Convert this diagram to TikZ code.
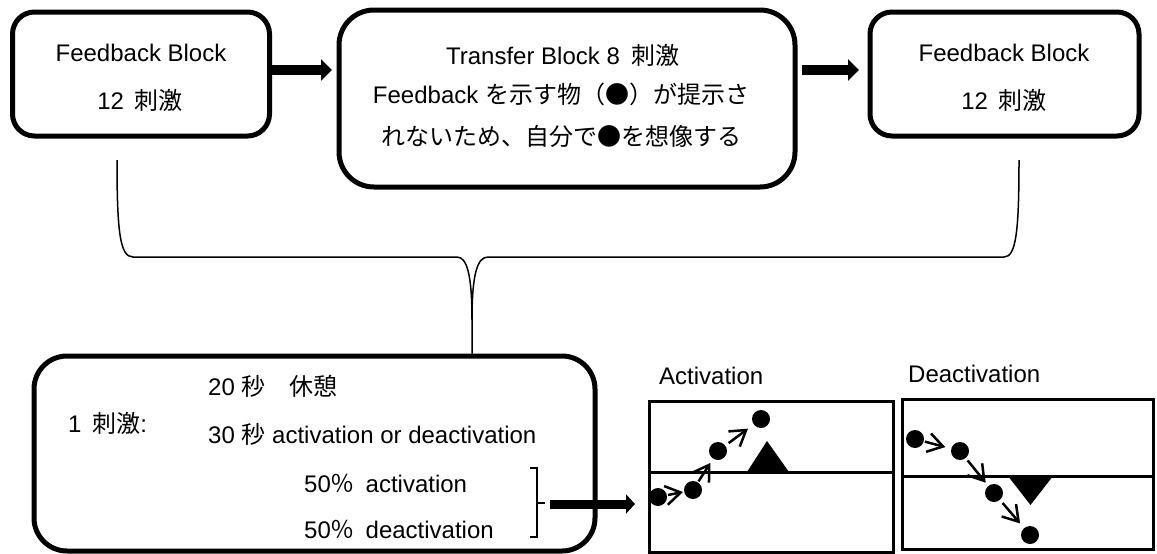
\documentclass[tikz,border=0pt]{standalone}
\usepackage{fontspec}
\setmainfont{Liberation Sans}
\newfontfamily\jp{Noto Sans CJK JP}
\usetikzlibrary{arrows.meta}
\begin{document}
\begin{tikzpicture}[x=1pt,y=-1pt,
  every node/.style={inner sep=0pt,font=\fontsize{24}{28}\selectfont},
  block/.style={draw,line width=5pt,rounded corners=#1},
  panel/.style={draw,line width=3pt},
  txt/.style={anchor=base},
  txtl/.style={anchor=base west},
  flow/.style={line width=10pt,-{Triangle[length=11pt,width=21pt]}},
  feed/.style={line width=9pt,-{Triangle[length=9pt,width=19pt]}},
  brace/.style={line width=1.5pt},
  dot/.style={circle,fill,minimum size=18pt},
  move/.style={line width=2.5pt,-{Straight Barb[length=15pt,width=19pt]},shorten <=1pt},
]
\useasboundingbox (0,0) rectangle (1157,554);

% blocks of the session
\node[block=22pt,minimum width=257pt,minimum height=124pt] (b1) at (141,74) {};
\node[block=35pt,minimum width=456pt,minimum height=177pt] (b2) at (567,98.5) {};
\node[block=22pt,minimum width=269pt,minimum height=124pt] (b3) at (1004.5,74) {};

\node[txt] (b1t1) at (141,61) {Feedback Block};
\node[txt] (b1t2) at (140,109) {12\hspace{0.45em}{\jp 刺激}};
\node[txt] (b2t1) at (563,64) {Transfer Block 8\hspace{0.5em}{\jp 刺激}};
\node[txt] (b2t2) at (561,103) {Feedback {\jp を示す物（●）が提示さ}};
\node[txt] (b2t3) at (561,145) {\jp れないため、自分で●を想像する};
\node[txt] (b3t1) at (1004,61) {Feedback Block};
\node[txt] (b3t2) at (1004,109) {12\hspace{0.45em}{\jp 刺激}};

\draw[flow,shorten >=4.5pt] ([yshift=4pt]b1.east) -- ([yshift=4pt]b1.east -| b2.west);
\draw[flow,shorten >=8.5pt,shorten <=4.5pt] ([yshift=4pt]b3.west -| b2.east) -- ([yshift=4pt]b3.west);

% trial structure
\node[block=33pt,minimum width=561pt,minimum height=195pt] (b4) at (314.5,453.5) {};
\node[txtl] (s0) at (68,432) {1\hspace{0.45em}{\jp 刺激}:};
\node[txtl] (s1) at (208,395) {20 {\jp 秒　休憩}};
\node[txtl] (s2) at (208,443) {30 {\jp 秒} activation or deactivation};
\node[txtl] (s3) at (304,492) {50{\jp ％}\hspace{0.45em}activation};
\node[txtl] (s4) at (304,538) {50{\jp ％}\hspace{0.45em}deactivation};

% brace joining the two feedback blocks
\coordinate (bl) at (117,160);
\coordinate (br) at (1019,160);
\coordinate (tip) at (472,320);
\draw[brace] (bl) .. controls (117,232) and (120,257) .. (133,257) -- (457,257)
  .. controls (467,257) and (472,275) .. (tip) -- (tip |- b4.north);
\draw[brace] (br) .. controls (1019,232) and (1016,257) .. (1004,257) -- (488,257)
  .. controls (477,257) and (472,275) .. (tip);

% bracket over the two conditions
\draw[brace] (530,468) -- (537,468) -- (537,537) -- (530,537);
\draw[brace] (537,503) -- (545,503);
\coordinate (brk) at (550,504);

% feedback panels
\node[txtl] (lact) at (659,384) {Activation};
\node[txtl] (ldeact) at (908,382) {Deactivation};
\node[panel,minimum width=244pt,minimum height=151pt] (act) at (771,476.5) {};
\node[panel,minimum width=251pt,minimum height=150pt] (deact) at (1027.5,474) {};
\coordinate (amid) at (0,472);
\coordinate (dmid) at (0,476);
\draw[line width=3pt] (act.west |- amid) -- (act.east |- amid);
\draw[line width=3pt] (deact.west |- dmid) -- (deact.east |- dmid);
\fill (747,472) -- (767,441) -- (789,472) -- cycle;
\fill (1008,476) -- (1030.5,505) -- (1053,476) -- cycle;

\draw[feed,shorten >=12.5pt] (brk) -- (brk -| act.west);

% imagined feedback: upward path
\node[dot] (d1) at (658,497) {};
\node[dot] (d2) at (693,490) {};
\node[dot] (d3) at (718,451) {};
\node[dot] (d4) at (761,419) {};
\draw[move,shorten >=1pt] (d1) -- (d2);
\draw[move,shorten >=5pt] (d2) -- (d3);
\draw[move,shorten >=7pt,shorten <=4pt] (d3) -- (d4);

% imagined feedback: downward path
\node[dot] (e1) at (915,439) {};
\node[dot] (e2) at (960,451) {};
\node[dot] (e3) at (994,493) {};
\node[dot] (e4) at (1030,535) {};
\draw[move,shorten >=6pt] (e1) -- (e2);
\draw[move,shorten >=4pt,shorten <=3pt] (e2) -- (e3);
\draw[move,shorten >=6pt,shorten <=4pt] (e3) -- (e4);
\end{tikzpicture}
\end{document}
